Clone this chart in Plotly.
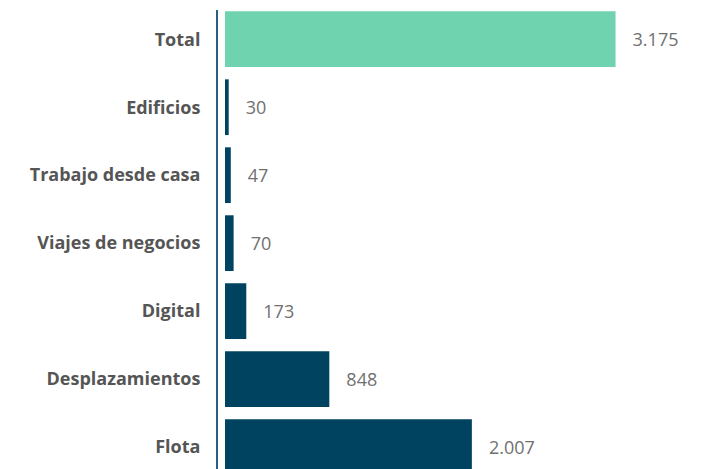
import plotly.graph_objects as go

categorias = ['Flota', 'Desplazamientos', 'Digital', 'Viajes de negocios',
              'Trabajo desde casa', 'Edificios', 'Total']
valores = [2007, 848, 173, 70, 47, 30, 3175]
colores = ['#004360', '#004360', '#004360', '#004360', '#004360', '#004360', '#6fd3b0']

fig = go.Figure()
fig.add_trace(go.Bar(y=categorias,
                     x=valores,
                     orientation='h',
                     marker=dict(color=colores, line=dict(width=0)),
                     texttemplate='   %{x:,}',
                     textposition='outside',
                     cliponaxis=False,
                     textfont=dict(family='Open Sans', size=18, color='#707070'),
                     hoverinfo='skip'))

# la página añade 8px de margen, por eso l y t van recortados
fig.update_layout(width=710, height=469,
                  margin=dict(l=210, r=0, t=2, b=0),
                  paper_bgcolor='white',
                  plot_bgcolor='white',
                  separators=',.',
                  bargap=0.18,
                  showlegend=False)
fig.update_xaxes(range=[-57, 4008], visible=False, showgrid=False, zeroline=False)
fig.update_yaxes(range=[-0.44, 6.43], automargin=False,
                 showline=True, linecolor='#2a5f80', linewidth=2,
                 showgrid=False, zeroline=False,
                 ticks='', ticklabelstandoff=12,
                 tickfont=dict(family='Open Sans', size=18, color='#555555', weight='bold'))

fig.write_html("out.html")
